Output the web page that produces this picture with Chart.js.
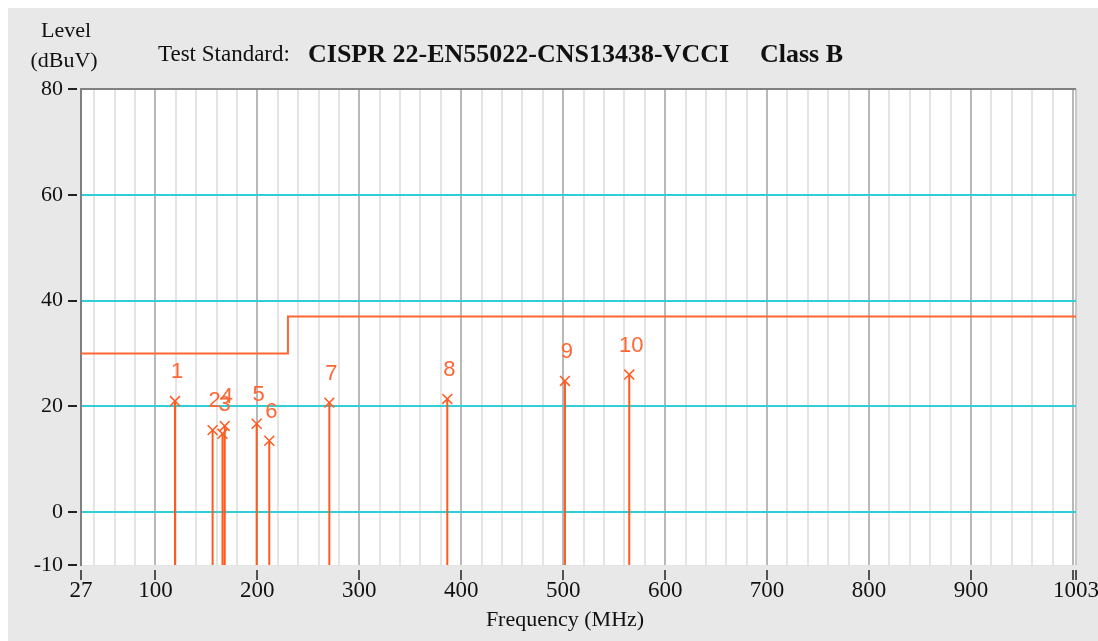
<!DOCTYPE html>
<html>
<head>
<meta charset="utf-8">
<title>Radiated emission - CISPR 22 Class B</title>
<script src="https://cdn.jsdelivr.net/npm/chart.js@4.4.0/dist/chart.umd.min.js"></script>
<style>
  html, body { margin: 0; padding: 0; background: #fff; }
  canvas { display: block; }
</style>
</head>
<body>
<canvas id="emi-canvas" width="1098" height="641"></canvas>
<script>
// marker readings (MHz / dBuV)
var markerNo = ['1', '2', '3', '4', '5', '6', '7', '8', '9', '10'];
var markerFreq = [119.2, 156.1, 165.8, 168.0, 199.3, 211.7, 270.6, 386.3, 501.7, 564.8];
var markerLevel = [21.0, 15.5, 14.8, 16.3, 16.7, 13.5, 20.7, 21.4, 24.8, 26.0];

// Class B limit line
var limitFreq = [27, 230, 230, 1003];
var limitLevel = [30, 30, 37, 37];

// axes
var yTicks = [80, 60, 40, 20, 0, -10];
var xLabels = [27, 100, 200, 300, 400, 500, 600, 700, 800, 900, 1003];
var xMin = 27, xMax = 1003, xMinorStep = 20;

var ORANGE = '#ff6633';
var STEM = '#ff5a1f';
var CYAN = '#30cfd8';
var SERIF = '"Liberation Serif", "Times New Roman", serif';
var NONE = 'rgba(0,0,0,0)';

var limitData = limitFreq.map((f, i) => ({x: f, y: limitLevel[i]}));
var markerData = markerFreq.map((f, i) => ({x: f, y: markerLevel[i]}));
var stemData = [];
markerFreq.forEach((f, i) => {
    stemData.push({x: f, y: -10});
    stemData.push({x: f, y: markerLevel[i]});
    stemData.push({x: f, y: null});
});

var panel = {
    id: 'panel',
    beforeDraw: (chart) => {
        var ctx = chart.ctx, a = chart.chartArea;
        ctx.save();
        ctx.fillStyle = '#fff';
        ctx.fillRect(0, 0, chart.width, chart.height);
        ctx.fillStyle = '#e8e8e8';
        ctx.fillRect(8, 8, chart.width - 8, chart.height - 8);
        ctx.fillStyle = '#fff';
        ctx.fillRect(a.left, a.top, a.right - a.left, a.bottom - a.top);
        ctx.restore();
    },
    afterDatasetsDraw: (chart) => {
        var ctx = chart.ctx;
        var meta = chart.getDatasetMeta(2);
        ctx.save();
        ctx.fillStyle = ORANGE;
        ctx.font = '22px "Liberation Sans", Arial, sans-serif';
        ctx.textAlign = 'center';
        ctx.textBaseline = 'middle';
        meta.data.forEach((pt, i) => {
            ctx.fillText(markerNo[i], pt.x + 2, pt.y - 29);
        });
        ctx.restore();
    },
    afterDraw: (chart) => {
        var ctx = chart.ctx;
        ctx.save();
        ctx.fillStyle = '#111';
        ctx.textBaseline = 'middle';
        ctx.font = '22px ' + SERIF;
        ctx.textAlign = 'center';
        ctx.fillText('Level', 66, 31);
        ctx.fillText('(dBuV)', 64, 61);
        ctx.fillText('Frequency (MHz)', 565, 620);
        ctx.textAlign = 'left';
        ctx.font = '23px ' + SERIF;
        ctx.fillText('Test Standard:', 158, 55);
        ctx.font = 'bold 26px ' + SERIF;
        ctx.fillText('CISPR 22-EN55022-CNS13438-VCCI', 308, 55);
        ctx.fillText('Class B', 760, 55);
        ctx.restore();
    }
};

var chart = new Chart('emi-canvas', {
    type: 'scatter',
    data: {
        datasets: [
            {
                data: limitData,
                showLine: true,
                borderColor: ORANGE,
                borderWidth: 2,
                pointRadius: 0
            },
            {
                data: stemData,
                showLine: true,
                spanGaps: false,
                borderColor: STEM,
                borderWidth: 2,
                pointRadius: 0
            },
            {
                data: markerData,
                pointStyle: 'crossRot',
                pointRadius: 7,
                borderColor: STEM,
                borderWidth: 1.5,
                backgroundColor: STEM
            }
        ]
    },
    options: {
        responsive: false,
        animation: false,
        layout: { padding: { top: 89, right: 22, bottom: 0, left: 0 } },
        plugins: { legend: { display: false }, tooltip: { enabled: false } },
        scales: {
            x: {
                type: 'linear',
                min: xMin,
                max: xMax,
                afterBuildTicks: (axis) => {
                    var t = [xMin];
                    for (var v = 40; v <= 1000; v += xMinorStep) t.push(v);
                    t.push(xMax);
                    axis.ticks = t.map(v => ({value: v}));
                },
                afterFit: (axis) => {
                    axis.height = 76;
                    axis.paddingLeft = 0;
                    axis.paddingRight = 0;
                },
                ticks: {
                    autoSkip: false,
                    maxRotation: 0,
                    padding: -1,
                    color: '#111',
                    font: { family: SERIF, size: 23, lineHeight: 1 },
                    callback: (v) => xLabels.includes(v) ? String(v) : ''
                },
                grid: {
                    lineWidth: 2,
                    color: (c) => {
                        var v = c.tick.value;
                        if (v === xMin) return NONE;
                        if (v === xMax) return '#c8c8c8';
                        return v % 100 === 0 ? '#b8b8b8' : '#e4e4e4';
                    },
                    tickLength: 15,
                    tickWidth: 1.5,
                    tickBorderDash: [0, 4, 11, 60],
                    tickColor: (c) => {
                        var v = c.tick.value;
                        return (xLabels.includes(v) || v % 100 === 0) ? '#222' : NONE;
                    }
                },
                border: { color: '#e4e4e4', width: 1 }
            },
            y: {
                min: -10,
                max: 80,
                afterBuildTicks: (axis) => {
                    axis.ticks = yTicks.map(v => ({value: v}));
                },
                afterFit: (axis) => {
                    axis.width = 81;
                    axis.paddingTop = 0;
                    axis.paddingBottom = 0;
                },
                ticks: {
                    padding: 5,
                    color: '#111',
                    font: { family: SERIF, size: 22 }
                },
                grid: {
                    lineWidth: 2,
                    color: (c) => {
                        var v = c.tick.value;
                        if (v === 80) return '#808080';
                        if (v === -10) return NONE;
                        return CYAN;
                    },
                    tickLength: 13,
                    tickWidth: 2,
                    tickBorderDash: [9, 50],
                    tickColor: '#222'
                },
                border: { color: '#808080', width: 2 }
            }
        }
    },
    plugins: [panel]
});
</script>
</body>
</html>
